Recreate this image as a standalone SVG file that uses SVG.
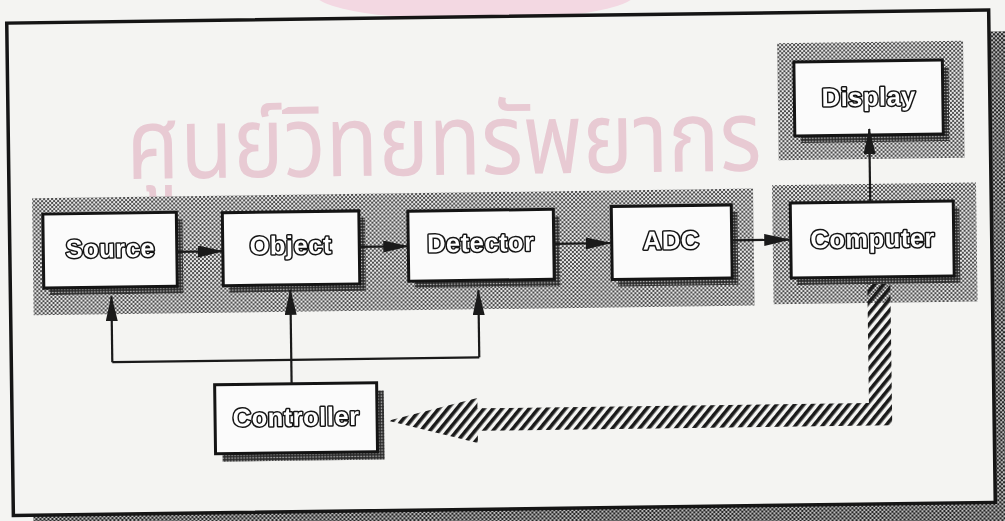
<svg xmlns="http://www.w3.org/2000/svg" width="1005" height="521" viewBox="0 0 1005 521">
<defs>
  <pattern id="dots" width="4" height="4" patternUnits="userSpaceOnUse">
    <rect width="4" height="4" fill="#e8e8e8"/>
    <circle cx="1" cy="1" r="1.1" fill="#3a3a3a"/>
    <circle cx="3" cy="3" r="1.1" fill="#3a3a3a"/>
  </pattern>
  <pattern id="dark" width="3" height="3" patternUnits="userSpaceOnUse">
    <rect width="3" height="3" fill="#2c2c2c"/>
    <circle cx="1.5" cy="1.5" r="0.75" fill="#d8d8d8"/>
  </pattern>
  <pattern id="fshd" width="4" height="4" patternUnits="userSpaceOnUse">
    <rect width="4" height="4" fill="#cfcfcf"/>
    <circle cx="1" cy="1" r="1.3" fill="#262626"/>
    <circle cx="3" cy="3" r="1.3" fill="#262626"/>
  </pattern>
  <pattern id="hatch" width="7" height="7" patternUnits="userSpaceOnUse" patternTransform="rotate(40)">
    <rect width="3.6" height="7" fill="#1a1a1a"/>
  </pattern>
  <marker id="ah" viewBox="0 0 26 12" markerWidth="26" markerHeight="12" refX="25" refY="6" orient="auto" markerUnits="userSpaceOnUse">
    <path d="M0,0 L26,6 L0,12 z" fill="#1a1a1a"/>
  </marker>
</defs>
<style>
  .box{fill:#fbfbfb;stroke:#141414;stroke-width:3}
  .shd{fill:url(#dark)}
  .band{fill:url(#dots)}
  .lbl{font-family:"Liberation Sans",Arial,sans-serif;font-weight:bold;font-size:25.5px;letter-spacing:0.5px;fill:#ffffff;stroke:#151515;stroke-width:3;paint-order:stroke;stroke-linejoin:round;text-anchor:middle}
  .ln{fill:none;stroke:#1a1a1a;stroke-width:2.2}
  .wm{font-family:"Noto Sans Thai","Noto Sans","DejaVu Sans",sans-serif;fill:#f3d3df;mix-blend-mode:multiply}
</style>
<rect width="1005" height="521" fill="#f4f4f2"/>
<ellipse cx="475" cy="-6" rx="160" ry="26" fill="#f3d8e2"/>
<g transform="rotate(-0.77 500 262)">
  <g id="frame">
    <rect x="30" y="38" width="1000" height="510" fill="url(#fshd)"/>
    <rect x="10" y="16.5" width="982" height="492.5" fill="#f4f4f2" stroke="#151515" stroke-width="3.5"/>
  </g>
  <g id="watermark">
    <text class="wm" transform="translate(128 174) scale(1 1.15)" x="0" y="0" font-size="86" textLength="635" lengthAdjust="spacingAndGlyphs">ศูนย์วิทยทรัพยากร</text>
  </g>
  <g id="panels">
    <rect class="band" x="33" y="192" width="721" height="117"/>
    <rect class="band" x="773" y="189" width="204" height="119"/>
    <rect class="band" x="780" y="47" width="186" height="117"/>
  </g>
  <g id="source">
    <rect class="shd" x="49.5" y="215" width="133.5" height="74"/>
    <rect class="box" x="43.5" y="208" width="133.5" height="74"/>
    <text class="lbl" x="110.5" y="252">Source</text>
  </g>
  <g id="object">
    <rect class="shd" x="229" y="216" width="136.5" height="73"/>
    <rect class="box" x="223" y="209" width="136.5" height="73"/>
    <text class="lbl" x="291" y="251.2">Object</text>
  </g>
  <g id="detector">
    <rect class="shd" x="414.5" y="217" width="145.5" height="70"/>
    <rect class="box" x="408.5" y="210" width="145.5" height="70"/>
    <text class="lbl" x="481" y="251.2">Detector</text>
  </g>
  <g id="adc">
    <rect class="shd" x="618" y="215" width="120" height="73"/>
    <rect class="box" x="612" y="208" width="120" height="73"/>
    <text class="lbl" x="671.5" y="251.4">ADC</text>
  </g>
  <g id="computer">
    <rect class="shd" x="797" y="214" width="163" height="75"/>
    <rect class="box" x="791" y="207" width="163" height="75"/>
    <text class="lbl" x="873" y="252.4">Computer</text>
  </g>
  <g id="display">
    <rect class="shd" x="802.5" y="73" width="148.5" height="74"/>
    <rect class="box" x="796.5" y="66" width="148.5" height="74"/>
    <text class="lbl" x="871" y="110.6">Display</text>
  </g>
  <g id="controller">
    <rect class="shd" x="220" y="389" width="162" height="69"/>
    <rect class="box" x="213" y="381" width="162" height="69"/>
    <text class="lbl" x="294" y="423">Controller</text>
  </g>
  <g id="connectors">
    <path class="ln" d="M177,247.5 H223" marker-end="url(#ah)"/>
    <path class="ln" d="M359.5,245 H408.5" marker-end="url(#ah)"/>
    <path class="ln" d="M554,244.5 H611" marker-end="url(#ah)"/>
    <path class="ln" d="M732,243.5 H789.5" marker-end="url(#ah)"/>
    <path class="ln" d="M871,207 V134" marker-end="url(#ah)"/>
    <path class="ln" stroke-width="2.5" d="M111,357 H478"/>
    <path class="ln" d="M111,357 V291" marker-end="url(#ah)"/>
    <path class="ln" d="M478,357 V290" marker-end="url(#ah)"/>
    <path class="ln" d="M290,381 V287" marker-end="url(#ah)"/>
    <polygon fill="url(#hatch)" points="867,289 890,289 890,430.5 475.5,430.5 475.5,442.7 386,419.3 475.5,397.7 475.5,408 867,408"/>
  </g>
</g>
</svg>
